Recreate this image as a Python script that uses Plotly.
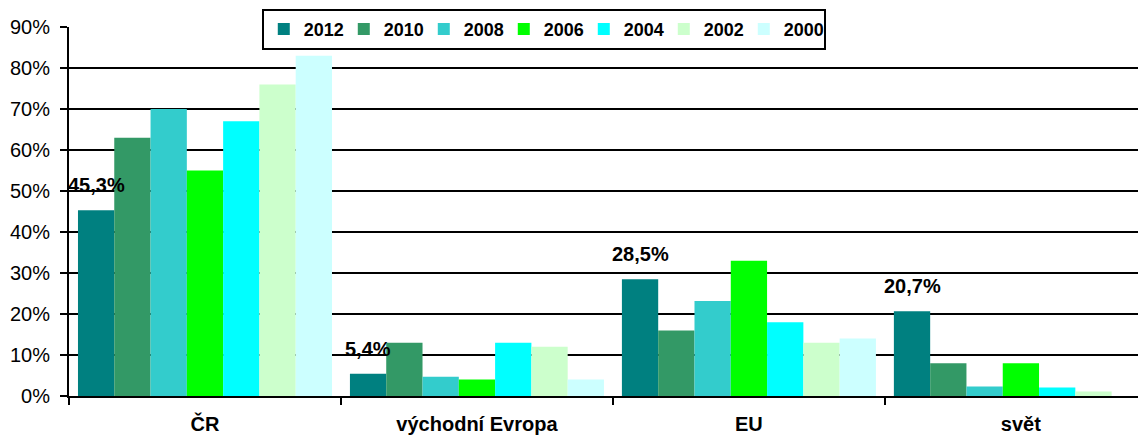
import plotly.graph_objects as go

categories = ["ČR", "východní Evropa", "EU", "svět"]
years = ["2012", "2010", "2008", "2006", "2004", "2002", "2000"]
v2012 = [45.3, 5.4, 28.5, 20.7]
v2010 = [63, 13, 16, 8]
v2008 = [70, 4.7, 23.2, 2.3]
v2006 = [55, 4, 33, 8]
v2004 = [67, 13, 18, 2.1]
v2002 = [76, 12, 13, 1.1]
v2000 = [83, 4, 14, 0]
labels2012 = ["45,3%", "5,4%", "28,5%", "20,7%"]
colors = ["#008080", "#339966", "#33CCCC", "#00FF00", "#00FFFF", "#CCFFCC", "#CCFFFF"]

series = [v2012, v2010, v2008, v2006, v2004, v2002, v2000]
bargap = 0.066
FONT = "Liberation Sans, Arial"

fig = go.Figure()
for name, vals, col in zip(years, series, colors):
    fig.add_trace(go.Bar(x=categories, y=vals, name=name, marker_color=col,
                         marker_line_width=0))

# data labels for 2012
n = len(series)
bw = (1 - bargap) / n
for i, (val, lab) in enumerate(zip(v2012, labels2012)):
    fig.add_annotation(x=i - (n - 1) / 2 * bw, y=val, xref="x", yref="y",
                       text=lab, showarrow=False, yanchor="bottom", yshift=12,
                       font=dict(family=FONT, size=20, color="black", weight="bold"))

# page has an 8px body margin, so the figure is drawn 8px in from the top-left
fig.update_layout(
    width=1138, height=428,
    margin=dict(l=61, r=0, t=19, b=40, autoexpand=False),
    paper_bgcolor="white", plot_bgcolor="white",
    barmode="group", bargap=bargap, bargroupgap=0,
    font=dict(family=FONT, size=16, color="black"),
    legend=dict(orientation="h", x=0.179, xanchor="left", y=1.049, yanchor="top",
                bgcolor="white", bordercolor="black", borderwidth=2,
                font=dict(size=18, weight="bold"), itemwidth=30,
                tracegroupgap=0, entrywidth=35, entrywidthmode="pixels"),
    showlegend=True,
)
fig.update_xaxes(type="category", range=[-0.5, 3.46], tickson="boundaries",
                 ticks="outside", ticklen=7, tickwidth=2, tickcolor="black",
                 showline=True, linecolor="black", linewidth=2,
                 tickfont=dict(size=20, weight="bold"), ticklabelstandoff=9,
                 showgrid=False)
fig.update_yaxes(range=[0, 90], dtick=10, ticksuffix="%",
                 ticks="outside", ticklen=7, tickwidth=2, tickcolor="black",
                 showline=True, linecolor="black", linewidth=2,
                 showgrid=True, gridcolor="black", gridwidth=2,
                 zeroline=False, tickfont=dict(size=20), ticklabelstandoff=6)

fig.write_html("out.html")
